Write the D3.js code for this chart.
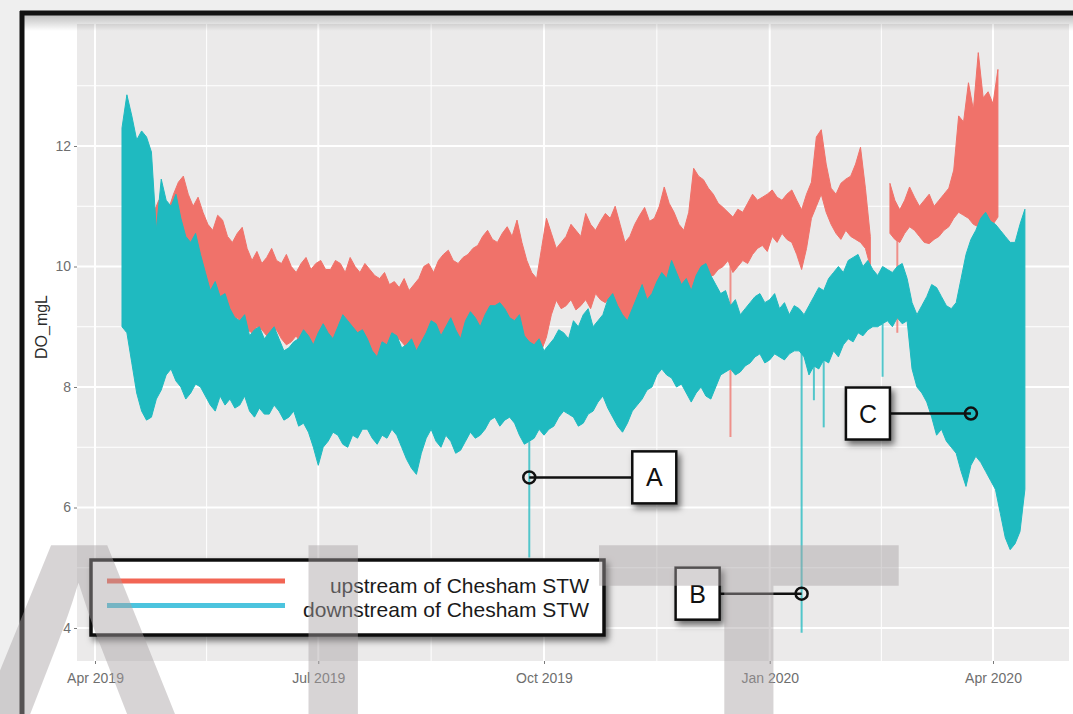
<!DOCTYPE html>
<html>
<head>
<meta charset="utf-8">
<script src="https://cdn.jsdelivr.net/npm/d3@7"></script>
<style>
body{margin:0;background:#efefef}
svg{display:block}
</style>
</head>
<body>
<svg id="chart" width="1073" height="714"></svg>
<script>
// DO readings, one [lo, hi] range every 2 days
var stepDays = 2
var dnStart = "2019-04-12"
var upStart = "2019-04-25"

var dnHi = [12.3,12.85,12.5,12.1,12.25,12.15,11.9,10.6,11.45,11.1,
11.0,11.2,10.8,10.5,10.4,10.55,10.2,9.9,9.6,9.75,
9.5,9.55,9.3,9.15,9.1,9.2,8.85,8.95,9.0,8.8,
8.9,9.0,8.8,8.6,8.65,8.75,8.8,8.95,8.85,8.7,
8.9,9.05,8.9,8.8,9.0,9.2,9.1,9.0,8.9,8.95,
8.8,8.6,8.5,8.75,8.7,8.9,8.85,8.65,8.7,8.8,
8.6,8.75,8.9,9.1,9.05,8.85,9.0,9.15,8.95,8.8,
9.1,9.25,9.15,9.0,9.2,9.35,9.35,9.4,9.3,9.15,
9.1,9.2,8.85,8.75,8.7,8.8,8.6,8.7,8.8,8.95,
8.9,8.8,9.1,9.0,9.2,9.3,9.0,9.1,9.2,9.45,
9.55,9.35,9.2,9.1,9.3,9.5,9.7,9.45,9.55,9.75,
9.9,9.8,10.1,9.9,9.7,9.8,9.6,9.85,10.0,10.05,
9.85,9.7,9.55,9.6,9.35,9.45,9.2,9.3,9.4,9.5,
9.55,9.4,9.45,9.55,9.3,9.4,9.2,9.35,9.3,9.2,
9.35,9.5,9.65,9.6,9.8,9.9,10.0,9.9,10.1,10.15,
10.2,10.0,10.1,9.95,9.85,10.0,9.95,9.9,10.0,10.05,
9.8,9.4,9.2,9.35,9.5,9.7,9.65,9.5,9.35,9.3,
9.4,9.8,10.2,10.45,10.6,10.8,10.9,10.75,10.7,10.6,
10.5,10.4,10.4,10.7,10.95]
var dnLo = [9.0,8.9,8.4,7.9,7.6,7.45,7.5,7.8,7.95,8.2,
8.3,8.1,8.0,7.8,7.9,8.05,8.0,7.85,7.7,7.6,
7.85,7.7,7.8,7.65,7.7,7.85,7.6,7.5,7.65,7.55,
7.55,7.7,7.6,7.45,7.5,7.6,7.35,7.4,7.25,7.0,
6.7,7.0,7.1,7.25,7.2,7.05,7.0,7.2,7.15,7.3,
7.3,7.15,7.05,7.2,7.15,7.3,7.2,7.0,6.8,6.65,
6.55,6.9,7.15,7.3,7.1,7.0,7.2,7.1,6.9,6.95,
7.1,7.25,7.15,7.2,7.3,7.45,7.5,7.35,7.45,7.5,
7.4,7.2,7.05,7.1,7.15,7.3,7.2,7.3,7.35,7.5,
7.6,7.55,7.5,7.35,7.4,7.55,7.6,7.75,7.85,7.65,
7.5,7.35,7.25,7.4,7.6,7.7,7.8,7.95,8.0,8.2,
8.3,8.2,8.15,8.0,8.05,7.9,7.75,7.9,8.0,7.85,
7.8,8.0,8.2,8.25,8.3,8.2,8.25,8.35,8.4,8.5,
8.55,8.4,8.45,8.55,8.5,8.45,8.55,8.6,8.6,8.5,
8.2,8.35,8.3,8.45,8.4,8.6,8.5,8.7,8.8,8.75,
8.9,8.85,8.95,9.0,9.0,9.05,9.1,9.0,9.15,9.05,
9.1,8.3,8.0,7.9,7.75,7.5,7.2,7.3,7.1,7.0,
6.9,6.6,6.35,6.7,6.85,6.75,6.6,6.45,6.3,5.9,
5.5,5.3,5.4,5.6,6.3]

var upHi = [10.9,11.1,11.05,10.95,11.2,11.4,11.5,11.2,11.0,11.15,
10.9,10.7,10.6,10.85,10.77,10.5,10.4,10.55,10.65,10.3,
10.1,10.25,10.05,10.15,10.3,10.1,10.05,10.2,10.0,9.9,
10.05,10.15,9.95,10.05,10.1,9.95,9.95,10.1,10.05,9.9,
10.15,10.0,9.9,10.05,9.95,9.85,9.8,9.9,9.7,9.75,
9.65,9.8,9.6,9.7,9.8,10.0,10.05,9.9,10.1,10.2,
10.27,10.1,10.05,10.15,10.2,10.3,10.35,10.5,10.6,10.45,
10.4,10.55,10.66,10.5,10.77,10.4,10.1,9.9,9.8,10.3,
10.8,10.55,10.3,10.4,10.5,10.7,10.6,10.5,10.88,10.7,
10.6,10.75,10.88,10.8,11.0,10.7,10.4,10.5,10.7,10.85,
10.98,10.75,10.8,11.0,11.32,11.05,10.9,10.7,10.6,10.9,
11.63,11.5,11.44,11.3,11.2,11.05,10.98,10.9,10.82,10.95,
10.9,11.05,11.2,11.1,11.15,11.2,11.27,11.15,11.1,11.2,
11.27,11.1,10.94,11.2,11.4,12.15,12.27,11.7,11.3,11.2,
11.38,11.45,11.5,11.7,11.98,11.3,10.5,null,null,null,
11.38,11.1,10.94,11.1,11.32,11.15,11.0,11.1,11.2,11.0,
11.1,11.2,11.3,11.6,12.5,12.4,13.05,12.6,13.55,12.8,
12.9,12.7,13.27]
var upLo = [9.8,9.7,9.6,9.75,9.7,9.85,9.8,9.6,9.55,9.45,
9.4,9.5,9.35,9.25,9.2,9.1,9.0,9.15,9.05,8.95,
8.9,9.0,8.95,8.85,8.85,8.95,8.8,8.7,8.75,8.85,
8.7,8.6,8.65,8.75,8.66,8.55,8.7,8.8,8.75,8.65,
8.78,8.7,8.6,8.65,8.5,8.45,8.35,8.5,8.45,8.6,
8.8,8.7,8.55,8.4,8.2,8.5,8.75,8.8,8.85,8.7,
8.94,8.8,8.66,8.75,8.85,8.95,9.0,8.9,9.05,9.1,
9.16,9.05,9.1,9.0,8.95,8.7,8.35,8.5,8.7,8.6,
8.83,9.2,9.44,9.3,9.35,9.45,9.28,9.35,9.45,9.3,
9.55,9.45,9.4,9.5,9.25,9.1,8.85,9.0,9.3,9.4,
9.5,9.4,9.6,9.7,9.75,9.65,9.83,9.7,9.6,9.5,
9.45,9.7,9.95,9.85,9.85,9.95,10.0,10.1,9.9,10.0,
10.1,10.05,10.2,10.3,10.35,10.25,10.5,10.4,10.55,10.45,
10.4,10.2,9.95,10.3,10.8,11.0,11.2,10.9,10.7,10.55,
10.45,10.6,10.5,10.45,10.4,10.3,10.0,null,null,null,
10.55,10.45,10.4,10.55,10.66,10.6,10.5,10.4,10.38,10.45,
10.5,10.6,10.66,10.8,10.9,10.85,10.8,10.7,10.66,10.75,
10.6,10.7,10.82]

// short sensor dips
var dnDips = [["2019-09-25",5.17],["2020-01-14",3.92],["2020-01-19",7.78],["2020-01-23",7.33],["2020-02-16",8.17]]
var upDips = [["2019-12-16",7.17],["2020-02-22",8.9]]

var seriesNames = ["upstream of Chesham STW","downstream of Chesham STW"]
var seriesColors = ["#f0726a","#1fbac0"]
var legendColors = ["#f26554","#4cc4de"]
var yTicks = [4,6,8,10,12]
var yMinor = [5,7,9,11,13]
var xTickDates = ["2019-04-01","2019-07-01","2019-10-01","2020-01-01","2020-04-01"]
var xTickLabels = ["Apr 2019","Jul 2019","Oct 2019","Jan 2020","Apr 2020"]
var notes = [
	{label:"A", date:"2019-09-25", value:6.5, dx:103},
	{label:"B", date:"2020-01-14", value:4.57, dx:-82},
	{label:"C", date:"2020-03-23", value:7.56, dx:-81}
]
var watermark = ["A","L","T"]

var parse = d3.utcParse("%Y-%m-%d")
var svg = d3.select("#chart")
var panel = {left:77, right:1069, top:24, bottom:661}

var x = d3.scaleUtc().domain([parse("2019-04-01"), parse("2020-04-01")]).range([95, 993])
var y = d3.scaleLinear().domain([4,12]).range([628,146])

var defs = svg.append("defs")
var shadow = defs.append("filter").attr("id","shadow").attr("x","-30%").attr("y","-30%").attr("width","160%").attr("height","160%")
shadow.append("feDropShadow").attr("dx",3).attr("dy",4).attr("stdDeviation",3).attr("flood-color","#000").attr("flood-opacity",0.55)
defs.append("clipPath").attr("id","clip").append("rect")
	.attr("x",panel.left).attr("y",panel.top).attr("width",panel.right-panel.left).attr("height",panel.bottom-panel.top)
var grad = defs.append("linearGradient").attr("id","topShade").attr("x1",0).attr("x2",0).attr("y1",0).attr("y2",1)
grad.append("stop").attr("offset","0%").attr("stop-color","#000").attr("stop-opacity",0.25)
grad.append("stop").attr("offset","100%").attr("stop-color","#000").attr("stop-opacity",0)

// page + frame
svg.append("rect").attr("width",1073).attr("height",714).attr("fill","#efefef")
svg.append("rect").attr("x",22).attr("y",13).attr("width",1051).attr("height",701).attr("fill","#fff")
svg.append("rect").attr("x",panel.left).attr("y",panel.top).attr("width",panel.right-panel.left).attr("height",panel.bottom-panel.top)
	.attr("fill","#ebeaea")

// grid
var minorX = []
for(var i=0;i<xTickDates.length-1;i++){
	var a = parse(xTickDates[i]).getTime(), b = parse(xTickDates[i+1]).getTime()
	minorX.push(new Date((a+b)/2))
}
var grid = svg.append("g").attr("clip-path","url(#clip)")
grid.selectAll(".ymin").data(yMinor).enter().append("line")
	.attr("x1",panel.left).attr("x2",panel.right).attr("y1",function(d){return y(d)}).attr("y2",function(d){return y(d)})
	.attr("stroke","#fff").attr("stroke-width",1)
grid.selectAll(".xmin").data(minorX).enter().append("line")
	.attr("y1",panel.top).attr("y2",panel.bottom).attr("x1",function(d){return x(d)}).attr("x2",function(d){return x(d)})
	.attr("stroke","#fff").attr("stroke-width",1)
grid.selectAll(".ymaj").data(yTicks).enter().append("line")
	.attr("x1",panel.left).attr("x2",panel.right).attr("y1",function(d){return y(d)}).attr("y2",function(d){return y(d)})
	.attr("stroke","#fff").attr("stroke-width",2)
grid.selectAll(".xmaj").data(xTickDates).enter().append("line")
	.attr("y1",panel.top).attr("y2",panel.bottom).attr("x1",function(d){return x(parse(d))}).attr("x2",function(d){return x(parse(d))})
	.attr("stroke","#fff").attr("stroke-width",2)

function build(start, hi, lo){
	return hi.map(function(h,i){
		return {date:d3.utcDay.offset(parse(start), i*stepDays), hi:h, lo:lo[i]}
	})
}
var upData = build(upStart, upHi, upLo)
var dnData = build(dnStart, dnHi, dnLo)

var area = d3.area()
	.defined(function(d){return d.hi!=null})
	.x(function(d){return x(d.date)})
	.y0(function(d){return y(d.lo)})
	.y1(function(d){return y(d.hi)})

var plot = svg.append("g").attr("clip-path","url(#clip)")

function drawSeries(data, dips, color){
	plot.append("path").datum(data).attr("d",area)
		.attr("fill",color).attr("stroke",color).attr("stroke-width",1).attr("stroke-linejoin","miter")
	plot.selectAll(null).data(dips).enter().append("line")
		.attr("x1",function(d){return x(parse(d[0]))}).attr("x2",function(d){return x(parse(d[0]))})
		.attr("y1",function(d){
			var t = parse(d[0])
			var near = data.filter(function(p){return p.lo!=null}).reduce(function(m,p){
				return Math.abs(p.date-t) < Math.abs(m.date-t) ? p : m
			})
			return y(near.lo)
		})
		.attr("y2",function(d){return y(d[1])})
		.attr("stroke",color).attr("stroke-width",2).attr("opacity",0.75)
}
drawSeries(upData, upDips, seriesColors[0])
drawSeries(dnData, dnDips, seriesColors[1])

// axes
var xAxis = svg.append("g").attr("transform","translate(0,"+panel.bottom+")")
	.call(d3.axisBottom(x).tickValues(xTickDates.map(parse)).tickSize(3).tickPadding(9)
		.tickFormat(function(d,i){return xTickLabels[i]}))
var yAxis = svg.append("g").attr("transform","translate("+panel.left+",0)")
	.call(d3.axisLeft(y).tickValues(yTicks).tickSize(3).tickPadding(3))
;[xAxis,yAxis].forEach(function(g){
	g.select(".domain").remove()
	g.selectAll(".tick line").attr("stroke","#7a7a7a")
	g.selectAll("text").attr("fill","#6e6e6e").style("font-family","Liberation Sans, Arial, sans-serif").style("font-size","14px")
})

svg.append("text").attr("transform","translate(47,327) rotate(-90)")
	.attr("text-anchor","middle").attr("fill","#2a2a2a")
	.style("font-family","Liberation Sans, Arial, sans-serif").style("font-size","16px")
	.text("DO_mgL")

// shade under frame top + frame lines
svg.append("rect").attr("x",24).attr("y",15).attr("width",1049).attr("height",16).attr("fill","url(#topShade)")
svg.append("line").attr("x1",20).attr("x2",1073).attr("y1",13).attr("y2",13).attr("stroke","#111").attr("stroke-width",5)
svg.append("line").attr("x1",22).attr("x2",22).attr("y1",11).attr("y2",714).attr("stroke","#111").attr("stroke-width",5)

// legend
var legend = svg.append("g")
legend.append("rect").attr("x",91).attr("y",560).attr("width",513).attr("height",75)
	.attr("fill","#fff").attr("stroke","#111").attr("stroke-width",3.5).attr("filter","url(#shadow)")
seriesNames.forEach(function(name,i){
	var ly = 581 + i*24.5
	legend.append("line").attr("x1",107).attr("x2",285).attr("y1",ly).attr("y2",ly)
		.attr("stroke",legendColors[i]).attr("stroke-width",5)
	legend.append("text").attr("x",589).attr("y",ly+11.5).attr("text-anchor","end")
		.attr("fill","#1a1a1a").style("font-family","Liberation Sans, Arial, sans-serif").style("font-size","21px")
		.text(name)
})

// callouts
var callout = svg.selectAll(".note").data(notes).enter().append("g")
callout.each(function(d){
	var g = d3.select(this)
	var cx = x(parse(d.date)), cy = y(d.value)
	var bx = d.dx > 0 ? cx + d.dx : cx + d.dx - 44
	var edge = d.dx > 0 ? bx : bx + 44
	g.append("line").attr("x1",cx).attr("x2",edge).attr("y1",cy).attr("y2",cy).attr("stroke","#111").attr("stroke-width",2.5)
	g.append("circle").attr("cx",cx).attr("cy",cy).attr("r",6).attr("fill","none").attr("stroke","#111").attr("stroke-width",2.5)
	g.append("rect").attr("x",bx).attr("y",cy-26).attr("width",44).attr("height",52)
		.attr("fill","#fff").attr("stroke","#111").attr("stroke-width",2.5).attr("filter","url(#shadow)")
	g.append("text").attr("x",bx+22).attr("y",cy+9).attr("text-anchor","middle").attr("fill","#111")
		.style("font-family","Liberation Sans, Arial, sans-serif").style("font-size","25px").text(d.label)
})

// watermark
var wmX = [78, 265, 749]
var wmAnchor = ["middle","start","middle"]
svg.selectAll(".wm").data(watermark).enter().append("text")
	.attr("x",function(d,i){return wmX[i]}).attr("y",910)
	.attr("text-anchor",function(d,i){return wmAnchor[i]})
	.attr("fill","#a8a2a4").attr("opacity",0.45)
	.style("font-family","Liberation Sans, Arial, sans-serif").style("font-size","530px")
	.text(function(d){return d})
</script>
</body>
</html>
